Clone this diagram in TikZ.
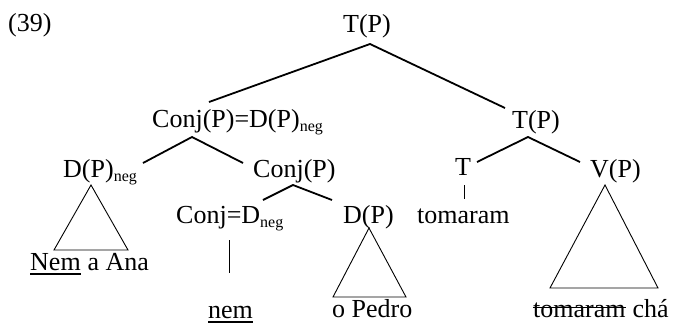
\documentclass[tikz,border=0pt]{standalone}
\usepackage{fontspec}
\setmainfont{Liberation Serif}
\newcommand\negsub[1]{\raisebox{-4pt}{\fontsize{16}{16}\selectfont #1}}
\begin{document}
\begin{tikzpicture}[x=1pt,y=-1pt,
  lbl/.style={inner sep=0pt,anchor=base west,font=\fontsize{26}{30}\selectfont},
  branch/.style={line width=1.8pt},
  tri/.style={line width=0.9pt,line join=miter},
  rule/.style={line width=1.8pt}]
\useasboundingbox (0,0) rectangle (673,325);
% labels
\node[lbl] (ex) at (8,31) {(39)};
\node[lbl] (tp1) at (343,32) {T(P)};
\node[lbl] (conjpd) at (152,127) {Conj(P)=D(P)\negsub{neg}};
\node[lbl] (tp2) at (512,128) {T(P)};
\node[lbl] (dpneg) at (63,177) {D(P)\negsub{neg}};
\node[lbl] (conjp) at (253,177) {Conj(P)};
\node[lbl] (t) at (455,175) {T};
\node[lbl] (vp) at (590,177) {V(P)};
\node[lbl] (conjd) at (176,223) {Conj=D\negsub{neg}};
\node[lbl] (dp) at (343,223) {D(P)};
\node[lbl] (tom) at (417,223) {tomaram};
\node[lbl] (nemA) at (30,270) {Nem};
\node[lbl] (ana) at ([xshift=6.5pt]nemA.base east) {a Ana};
\node[lbl] (nemB) at (208,318) {nem};
\node[lbl] (pedro) at (332,317) {o Pedro};
\node[lbl] (tomS) at (533,317) {tomaram};
\node[lbl] (cha) at ([xshift=6.5pt]tomS.base east) {chá};
% branch points
\coordinate (a1) at (370,44);
\coordinate (a1l) at (209,102);
\coordinate (a1r) at (505,108);
\coordinate (a2) at (192,137);
\coordinate (a2l) at (143,163);
\coordinate (a2r) at (243,163);
\coordinate (a3) at (528,137);
\coordinate (a3l) at (477,162);
\coordinate (a3r) at (580,162);
\coordinate (a4) at (293,185);
\coordinate (a4l) at (263,200);
\coordinate (a4r) at (332,200);
\coordinate (v1t) at (229,240);
\coordinate (v1b) at (229,273);
\coordinate (v2t) at (464,185);
\coordinate (v2b) at (464,199);
\draw[branch] (a1l) -- (a1) -- (a1r);
\draw[branch] (a2l) -- (a2) -- (a2r);
\draw[branch] (a3l) -- (a3) -- (a3r);
\draw[branch] (a4l) -- (a4) -- (a4r);
\draw[line width=1pt] (v1t) -- (v1b);
\draw[line width=1pt] (v2t) -- (v2b);
% triangles
\draw[tri] (91,185) -- (54,250) -- (128,250) -- cycle;
\draw[tri] (369,228) -- (333,297) -- (406,297) -- cycle;
\draw[tri] (605,185) -- (550,288) -- (658,288) -- cycle;
% underlines and strike
\draw[rule] ([yshift=-4pt]nemA.base west) -- ([yshift=-4pt]nemA.base east);
\draw[rule] ([yshift=-4pt]nemB.base west) -- ([yshift=-4pt]nemB.base east);
\draw[rule] ([yshift=9.5pt]tomS.base west) -- ([yshift=9.5pt]tomS.base east);
\end{tikzpicture}
\end{document}
